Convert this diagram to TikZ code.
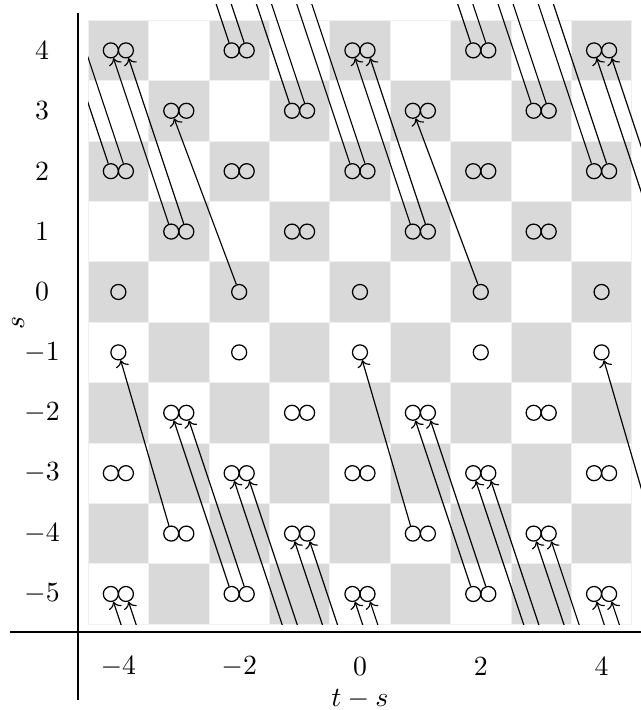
\documentclass[tikz,border=0pt]{standalone}
\usetikzlibrary{arrows.meta}
\begin{document}
\begin{tikzpicture}[x=21.75pt,y=21.75pt,
  cellbox/.style={draw=black!6,line width=0.3pt},
  graycell/.style={cellbox,fill=black!15},
  dot/.style={circle,draw,line width=0.45pt,minimum size=5.4pt,inner sep=0pt},
  link/.style={line width=0.42pt,-{To[length=2.4pt,width=4.8pt]}},
  axisline/.style={line width=0.5pt},
  ticklbl/.style={font=\normalsize,inner sep=0pt}
]
\useasboundingbox (-5.960,-6.921) rectangle (4.652,4.834);

% cells
\foreach \c in {-4,...,4}{
  \foreach \s in {-5,...,4}{
    \pgfmathtruncatemacro\pp{mod(\c+\s+20,2)}
    \ifnum\pp=0
      \path[graycell] (\c-0.5,\s-0.5) rectangle (\c+0.5,\s+0.5);
    \else
      \path[cellbox] (\c-0.5,\s-0.5) rectangle (\c+0.5,\s+0.5);
    \fi
  }
}

% axes
\draw[axisline] (-4.669,4.619) -- (-4.669,-6.755);
\draw[axisline] (-5.795,-5.629) -- (4.652,-5.629);

% tick labels
\foreach \s in {-5,...,4}{
  \node[ticklbl] (ylab\s) at (-5.265,\s) {$\s$};
}
\foreach \c in {-4,-2,0,2,4}{
  \node[ticklbl] (xlab\c) at (\c,-6.2) {$\c$};
}
\node[ticklbl] (xname) at (0,-6.74) {$t-s$};
\node[ticklbl,rotate=90] (yname) at (-5.66,-0.51) {$s$};

% circles
\foreach \c in {-4,...,4}{
  \foreach \s in {-5,...,4}{
    \pgfmathtruncatemacro\pp{mod(\c+\s+20,2)}
    \ifnum\s>0
      \ifnum\pp=0
        \node[dot] (n\c y\s L) at (\c-0.125,\s) {};
        \node[dot] (n\c y\s R) at (\c+0.125,\s) {};
      \fi
    \else\ifnum\s=0
      \ifnum\pp=0 \node[dot] (n\c y\s L) at (\c,\s) {}; \fi
    \else\ifnum\s=-1
      \ifnum\pp=1 \node[dot] (n\c y\s L) at (\c,\s) {}; \fi
    \else
      \ifnum\pp=1
        \node[dot] (n\c y\s L) at (\c-0.125,\s) {};
        \node[dot] (n\c y\s R) at (\c+0.125,\s) {};
      \fi
    \fi\fi\fi
  }
}

% off-grid ends of connectors
\foreach \c/\s in {5/1,-5/5,-1/5,3/5,-2/6,2/6,-3/7,1/7,-1/-6,3/-6,0/-7,4/-7,-3/-8,1/-8,5/-8,5/-4}{
  \coordinate (n\c y\s L) at (\c-0.125,\s);
  \coordinate (n\c y\s R) at (\c+0.125,\s);
}

% connectors
\begin{scope}
\clip (-4.5,-5.5) rectangle (4.652,4.752);
\foreach \c/\s in {-3/1,1/1,5/1,-4/2,0/2,4/2,-1/3,3/3,-2/4,2/4,-2/-5,2/-5,-1/-6,3/-6,0/-7,4/-7,-3/-8,1/-8,5/-8}{
  \pgfmathtruncatemacro\tc{\c-1}
  \pgfmathtruncatemacro\ts{\s+3}
  \draw[link] (n\c y\s L) -- (n\tc y\ts L);
  \draw[link] (n\c y\s R) -- (n\tc y\ts R);
}
\foreach \c/\s in {-2/0,2/0,-3/-4,1/-4,5/-4}{
  \pgfmathtruncatemacro\tc{\c-1}
  \pgfmathtruncatemacro\ts{\s+3}
  \draw[link] (n\c y\s L) -- (n\tc y\ts L);
}
\end{scope}
\end{tikzpicture}
\end{document}
